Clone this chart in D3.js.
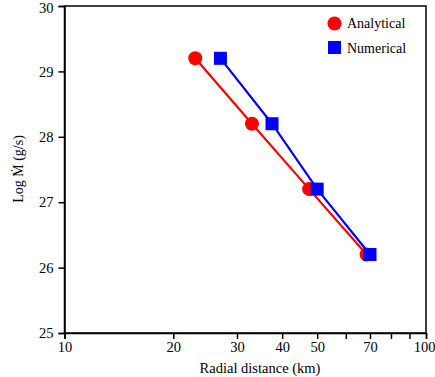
<!DOCTYPE html>
<html>
<head>
<meta charset="utf-8">
<script src="https://cdn.jsdelivr.net/npm/d3@7"></script>
<style>
  html, body { margin: 0; padding: 0; background: #fff; }
  svg { display: block; }
</style>
</head>
<body>
<svg id="chart" width="435" height="377"></svg>
<script>
// Mass-loss rate versus radial distance
const analyticalR = [23, 33, 47.5, 68.5];
const analyticalLogM = [29.2, 28.2, 27.2, 26.2];
const numericalR = [27, 37.5, 50, 70];
const numericalLogM = [29.2, 28.2, 27.2, 26.2];
const xTicks = [10, 20, 30, 40, 50, 60, 70, 80, 90, 100];
const xTickLabels = ["10", "20", "30", "40", "50", "", "70", "", "", "100"];
const yTicks = [25, 26, 27, 28, 29, 30];

const FONT = "Liberation Serif";
const svg = d3.select("#chart");
const m = { left: 64.5, right: 426, top: 6, bottom: 333 };

const x = d3.scaleLog().domain([10, 100]).range([m.left, m.right]);
const y = d3.scaleLinear().domain([25, 30]).range([m.bottom, m.top]);

// frame
svg.append("rect")
  .attr("x", m.left).attr("y", m.top)
  .attr("width", m.right - m.left).attr("height", m.bottom - m.top)
  .attr("fill", "none").attr("stroke", "#000").attr("stroke-width", 1.5);

const xAxis = svg.append("g")
  .attr("transform", `translate(0,${m.bottom})`)
  .call(d3.axisBottom(x).tickValues(xTicks)
    .tickFormat((d, i) => xTickLabels[i]).tickSize(6).tickPadding(3));
const yAxis = svg.append("g")
  .attr("transform", `translate(${m.left},0)`)
  .call(d3.axisLeft(y).tickValues(yTicks).tickFormat(d3.format("d"))
    .tickSize(6).tickPadding(5));

[xAxis, yAxis].forEach(g => {
  g.attr("font-family", FONT).attr("font-size", 14.5);
  g.select(".domain").attr("stroke", "#000").attr("stroke-width", 1.5);
  g.selectAll(".tick line").attr("stroke", "#000").attr("stroke-width", 1.5);
  g.selectAll(".tick text").attr("fill", "#000").attr("font-family", FONT);
});
// keep the outermost labels inside the window edges
xAxis.selectAll(".tick text").filter(d => d === 100)
  .attr("text-anchor", "end").attr("x", 435 - m.right);
yAxis.selectAll(".tick text").filter(d => d === 30).attr("dy", "0.42em");

// axis titles
svg.append("text")
  .attr("x", 260).attr("y", 373)
  .attr("text-anchor", "middle")
  .attr("font-family", FONT).attr("font-size", 14.5)
  .text("Radial distance (km)");

svg.append("text")
  .attr("transform", "translate(23,169) rotate(-90)")
  .attr("text-anchor", "middle")
  .attr("font-family", FONT).attr("font-size", 14)
  .text("Log \u1E40  (g/s)");

const line = d3.line().x(d => x(d[0])).y(d => y(d[1]));
const aData = analyticalR.map((r, i) => [r, analyticalLogM[i]]);
const nData = numericalR.map((r, i) => [r, numericalLogM[i]]);

// analytical series
svg.append("path").datum(aData)
  .attr("d", line).attr("fill", "none")
  .attr("stroke", "#ff0000").attr("stroke-width", 2.2);
svg.selectAll(".ana").data(aData).enter().append("circle")
  .attr("class", "ana")
  .attr("cx", d => x(d[0])).attr("cy", d => y(d[1]))
  .attr("r", 7).attr("fill", "#ff0000");

// numerical series
svg.append("path").datum(nData)
  .attr("d", line).attr("fill", "none")
  .attr("stroke", "#0000ff").attr("stroke-width", 2.2);
const sq = 13;
svg.selectAll(".num").data(nData).enter().append("rect")
  .attr("class", "num")
  .attr("x", d => x(d[0]) - sq / 2).attr("y", d => y(d[1]) - sq / 2)
  .attr("width", sq).attr("height", sq).attr("fill", "#0000ff");

// legend
const legend = svg.append("g").attr("font-family", FONT).attr("font-size", 14);
legend.append("circle").attr("cx", 334.5).attr("cy", 23.5).attr("r", 7).attr("fill", "#ff0000");
legend.append("text").attr("x", 347).attr("y", 28).text("Analytical");
legend.append("rect").attr("x", 328).attr("y", 41).attr("width", 13).attr("height", 13).attr("fill", "#0000ff");
legend.append("text").attr("x", 347).attr("y", 53).text("Numerical");
</script>
</body>
</html>
